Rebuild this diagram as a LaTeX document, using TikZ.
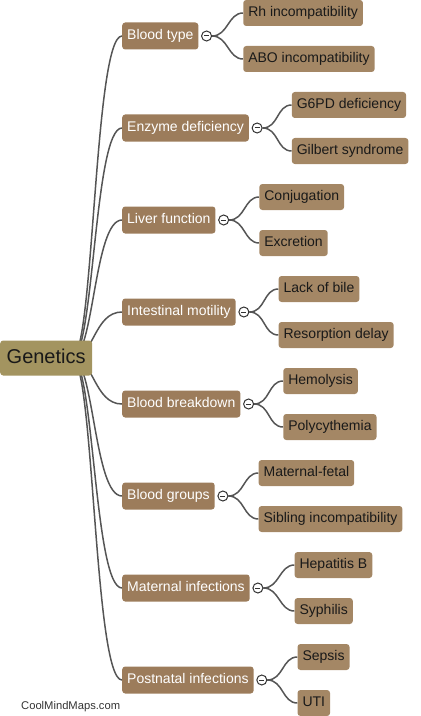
\documentclass[tikz,border=0pt]{standalone}
\usepackage{fontspec}
\setmainfont{Liberation Sans}
\usetikzlibrary{calc,backgrounds}
\definecolor{rootfill}{HTML}{A39460}
\definecolor{branchfill}{HTML}{9C7C5B}
\definecolor{leaffill}{HTML}{A48765}
\definecolor{linkgray}{HTML}{555555}
\begin{document}
\begin{tikzpicture}[x=1bp,y=-1bp,
  root/.style = {fill=rootfill, rounded corners=3bp, anchor=west, inner xsep=6.5bp, inner ysep=0, minimum height=35bp, text height=14bp, text depth=4bp, font=\fontsize{20bp}{24bp}\selectfont, text=black!90},
  branch/.style = {fill=branchfill, rounded corners=3bp, anchor=west, inner xsep=5bp, inner ysep=0, minimum height=27bp, text height=10bp, text depth=3bp, font=\fontsize{14bp}{17bp}\selectfont, text=white},
  leaf/.style = {branch, fill=leaffill, minimum height=26bp, text=black!90},
  toggle/.style = {draw=black!80, circle, fill=white, minimum size=10bp, inner sep=0, line width=1bp, path picture={\draw[line width=1bp] ([xshift=2.5bp]path picture bounding box.west) -- ([xshift=-2.5bp]path picture bounding box.east);}},
  link/.style = {draw=linkgray, line width=1.5bp}]
\useasboundingbox (0,0) rectangle (420,716);

\node[root] (g) at (0,358) {Genetics};
\coordinate (gc) at (72,358);

\node[branch] (b1) at (122,36) {Blood type};
\node[branch] (b2) at (122,128) {Enzyme deficiency};
\node[branch] (b3) at (122,220) {Liver function};
\node[branch] (b4) at (122,312) {Intestinal motility};
\node[branch] (b5) at (122,404) {Blood breakdown};
\node[branch] (b6) at (122,496) {Blood groups};
\node[branch] (b7) at (122,588) {Maternal infections};
\node[branch] (b8) at (122,680) {Postnatal infections};

\node[toggle] (t1) at ($(b1.east)+(8,0)$) {};
\node[toggle] (t2) at ($(b2.east)+(8,0)$) {};
\node[toggle] (t3) at ($(b3.east)+(8,0)$) {};
\node[toggle] (t4) at ($(b4.east)+(8,0)$) {};
\node[toggle] (t5) at ($(b5.east)+(8,0)$) {};
\node[toggle] (t6) at ($(b6.east)+(8,0)$) {};
\node[toggle] (t7) at ($(b7.east)+(8,0)$) {};
\node[toggle] (t8) at ($(b8.east)+(8,0)$) {};

\node[leaf] (l11) at ($(t1.east)+(31,-23)$) {Rh incompatibility};
\node[leaf] (l12) at ($(t1.east)+(31,23)$) {ABO incompatibility};
\node[leaf] (l21) at ($(t2.east)+(29,-23)$) {G6PD deficiency};
\node[leaf] (l22) at ($(t2.east)+(29,23)$) {Gilbert syndrome};
\node[leaf] (l31) at ($(t3.east)+(30,-23)$) {Conjugation};
\node[leaf] (l32) at ($(t3.east)+(30,23)$) {Excretion};
\node[leaf] (l41) at ($(t4.east)+(29,-23)$) {Lack of bile};
\node[leaf] (l42) at ($(t4.east)+(29,23)$) {Resorption delay};
\node[leaf] (l51) at ($(t5.east)+(29,-23)$) {Hemolysis};
\node[leaf] (l52) at ($(t5.east)+(29,23)$) {Polycythemia};
\node[leaf] (l61) at ($(t6.east)+(30,-23)$) {Maternal-fetal};
\node[leaf] (l62) at ($(t6.east)+(30,23)$) {Sibling incompatibility};
\node[leaf] (l71) at ($(t7.east)+(31,-23)$) {Hepatitis B};
\node[leaf] (l72) at ($(t7.east)+(31,23)$) {Syphilis};
\node[leaf] (l81) at ($(t8.east)+(30,-23)$) {Sepsis};
\node[leaf] (l82) at ($(t8.east)+(30,23)$) {UTI};

\node[text=black!80, font=\fontsize{11.2bp}{13bp}\selectfont, anchor=west, inner sep=0] (wm) at (21,707) {CoolMindMaps.com};

\begin{pgfonlayer}{background}
% root to branches
\draw[link] (gc) .. controls +(22,0) and +(-28,0) .. (b1.west);
\draw[link] (gc) .. controls +(22,0) and +(-28,0) .. (b2.west);
\draw[link] (gc) .. controls +(22,0) and +(-28,0) .. (b3.west);
\draw[link] (gc) .. controls +(22,0) and +(-28,0) .. (b4.west);
\draw[link] (gc) .. controls +(22,0) and +(-28,0) .. (b5.west);
\draw[link] (gc) .. controls +(22,0) and +(-28,0) .. (b6.west);
\draw[link] (gc) .. controls +(22,0) and +(-28,0) .. (b7.west);
\draw[link] (gc) .. controls +(22,0) and +(-28,0) .. (b8.west);
% branches to leaves
\draw[link] (t1.east) .. controls +(16,0) and +(-15,0) .. (l11.west);
\draw[link] (t1.east) .. controls +(16,0) and +(-15,0) .. (l12.west);
\draw[link] (t2.east) .. controls +(16,0) and +(-15,0) .. (l21.west);
\draw[link] (t2.east) .. controls +(16,0) and +(-15,0) .. (l22.west);
\draw[link] (t3.east) .. controls +(16,0) and +(-15,0) .. (l31.west);
\draw[link] (t3.east) .. controls +(16,0) and +(-15,0) .. (l32.west);
\draw[link] (t4.east) .. controls +(16,0) and +(-15,0) .. (l41.west);
\draw[link] (t4.east) .. controls +(16,0) and +(-15,0) .. (l42.west);
\draw[link] (t5.east) .. controls +(16,0) and +(-15,0) .. (l51.west);
\draw[link] (t5.east) .. controls +(16,0) and +(-15,0) .. (l52.west);
\draw[link] (t6.east) .. controls +(16,0) and +(-15,0) .. (l61.west);
\draw[link] (t6.east) .. controls +(16,0) and +(-15,0) .. (l62.west);
\draw[link] (t7.east) .. controls +(16,0) and +(-15,0) .. (l71.west);
\draw[link] (t7.east) .. controls +(16,0) and +(-15,0) .. (l72.west);
\draw[link] (t8.east) .. controls +(16,0) and +(-15,0) .. (l81.west);
\draw[link] (t8.east) .. controls +(16,0) and +(-15,0) .. (l82.west);
\end{pgfonlayer}
\end{tikzpicture}
\end{document}
